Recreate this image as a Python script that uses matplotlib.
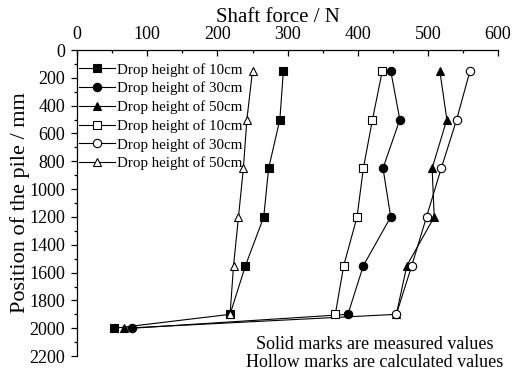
import numpy as np
import matplotlib
matplotlib.use('Agg')
import matplotlib.pyplot as plt
from matplotlib.ticker import MultipleLocator

plt.rcParams['font.family'] = ['Liberation Serif', 'DejaVu Serif']

# measured (solid) series
depth_meas = [150, 500, 850, 1200, 1550, 1900, 2000]
f10_meas = [294, 289, 273, 266, 240, 218, 53]
f30_meas = [447, 460, 436, 447, 408, 386, 78]
f50_meas = [517, 527, 506, 509, 470, 455, 67]

# calculated (hollow) series
depth_calc = [150, 500, 850, 1200, 1550, 1900]
f10_calc = [435, 421, 408, 399, 380, 368]
f30_calc = [560, 541, 519, 498, 477, 455]
f50_calc = [250, 242, 237, 230, 223, 218]

labels = ['Drop height of 10cm', 'Drop height of 30cm', 'Drop height of 50cm',
          'Drop height of 10cm', 'Drop height of 30cm', 'Drop height of 50cm']

fig = plt.figure(figsize=(5.14, 3.76), dpi=100)
ax = fig.add_axes([0.150, 0.053, 0.819, 0.814])

kw = dict(color='black', lw=0.8, markeredgewidth=0.8)
ax.plot(f10_meas, depth_meas, marker='s', ms=5.2, label=labels[0], **kw)
ax.plot(f30_meas, depth_meas, marker='o', ms=6, label=labels[1], **kw)
ax.plot(f50_meas, depth_meas, marker='^', ms=6, label=labels[2], **kw)
ax.plot(f10_calc, depth_calc, marker='s', ms=5.2, mfc='white', label=labels[3], **kw)
ax.plot(f30_calc, depth_calc, marker='o', ms=6, mfc='white', label=labels[4], **kw)
ax.plot(f50_calc, depth_calc, marker='^', ms=6, mfc='white', label=labels[5], **kw)

ax.set_xlim(0, 600)
ax.set_ylim(2200, 0)
ax.xaxis.set_major_locator(MultipleLocator(100))
ax.xaxis.set_minor_locator(MultipleLocator(50))
ax.yaxis.set_major_locator(MultipleLocator(200))
ax.yaxis.set_minor_locator(MultipleLocator(100))

ax.xaxis.tick_top()
ax.xaxis.set_label_position('top')
ax.spines['right'].set_visible(False)
ax.spines['bottom'].set_visible(False)
for s in ['top', 'left']:
    ax.spines[s].set_linewidth(0.9)
ax.tick_params(axis='x', which='both', direction='in', labelsize=13, pad=5, width=0.9)
ax.tick_params(axis='x', which='major', length=4)
ax.tick_params(axis='x', which='minor', length=2.2)
ax.tick_params(axis='y', which='both', direction='out', labelsize=13, pad=4.5, width=0.9)
ax.tick_params(axis='y', which='major', length=4.3)
ax.tick_params(axis='y', which='minor', length=2.2)

ax.set_xlabel('Shaft force / N', fontsize=15)
ax.xaxis.set_label_coords(0.476, 1.093)
ax.set_ylabel('Position of the pile / mm', fontsize=16)
ax.yaxis.set_label_coords(-0.112, 0.5)

ax.legend(loc='upper left', bbox_to_anchor=(0.005, 0.958), frameon=False,
          fontsize=10.8, handlelength=2.4, handletextpad=0.15,
          labelspacing=0.33, borderaxespad=0, borderpad=0)

ax.text(0.707, 0.008, 'Solid marks are measured values\nHollow marks are calculated values',
        transform=ax.transAxes, ha='center', va='center', fontsize=13,
        linespacing=1.1)

fig.savefig('out.png', dpi=100)
